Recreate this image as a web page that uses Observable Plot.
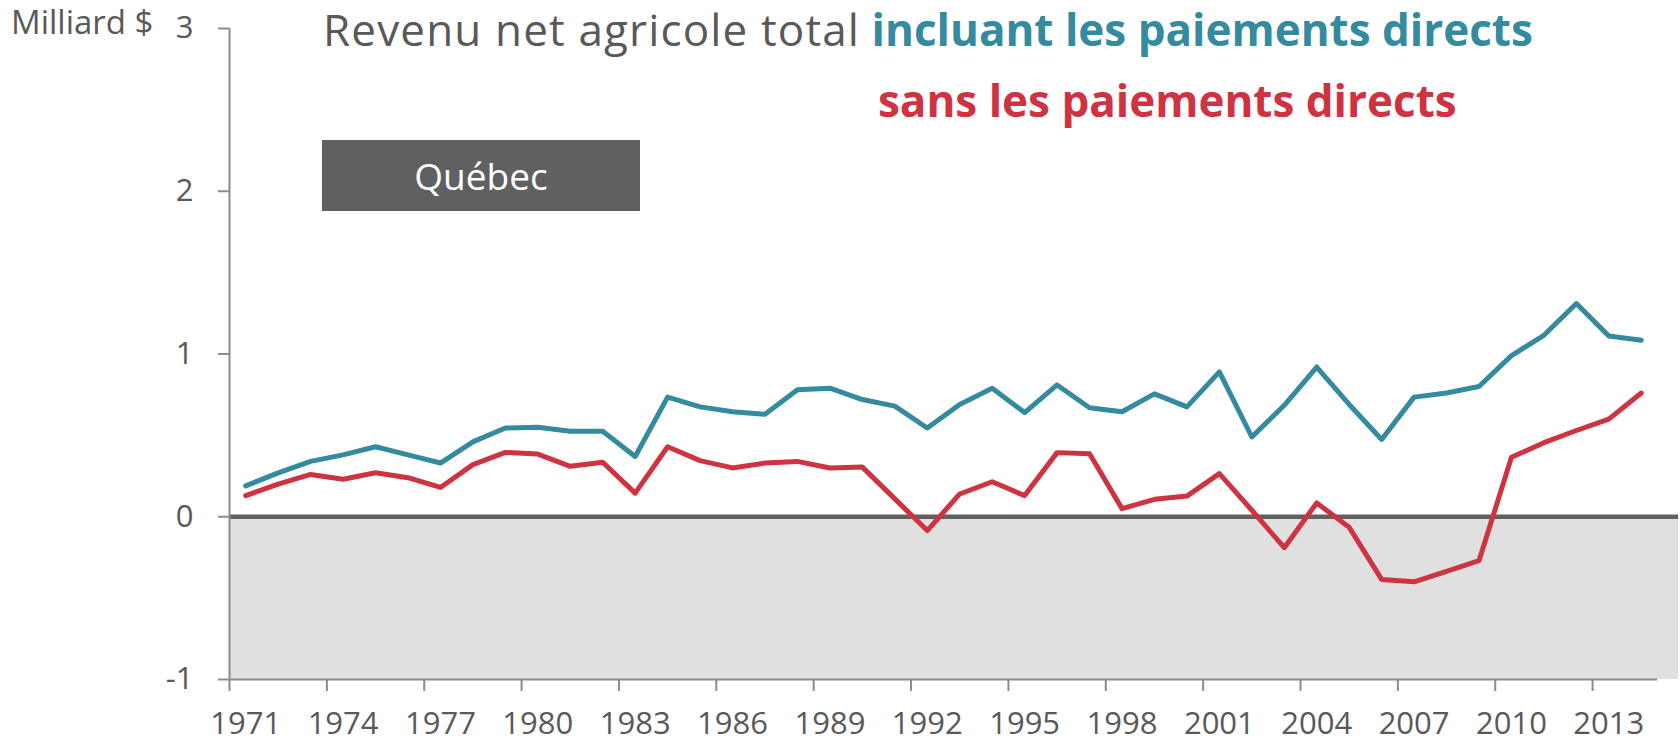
<!DOCTYPE html>
<html>
<head>
<meta charset="utf-8">
<script src="https://cdn.jsdelivr.net/npm/d3@7"></script>
<script src="https://cdn.jsdelivr.net/npm/@observablehq/plot@0.6"></script>
<style>
  html, body { margin: 0; padding: 0; background: #fff; }
  #wrap { position: relative; width: 1680px; height: 742px; font-family: "Open Sans", sans-serif; overflow: hidden; }
  #wrap svg { position: absolute; left: 0; top: 0; }
  .ov { position: absolute; white-space: nowrap; }
  #unit { left: 11px; top: -1px; font-size: 33px; color: #595959; line-height: normal; }
  #title1 { left: 323px; top: -1px; font-size: 44px; color: #595959; line-height: normal; }
  #title1 span { letter-spacing: 1.15px; }
  #title1 b { color: #348a9e; font-weight: 700; letter-spacing: 0; }
  #title2 { left: 878px; top: 70px; font-size: 44px; color: #cf3341; font-weight: 700; line-height: normal; }
  #region { left: 322px; top: 140px; width: 318px; height: 71px; background: #5f6062; color: #fff;
            font-size: 37px; line-height: 1; display: flex; align-items: center; justify-content: center; }
</style>
</head>
<body>
<div id="wrap">
  <div id="unit" class="ov">Milliard $</div>
  <div id="title1" class="ov"><span>Revenu net agricole total</span> <b>incluant les paiements directs</b></div>
  <div id="title2" class="ov">sans les paiements directs</div>
  <div id="region" class="ov">Québec</div>
</div>
<script>
// Years (categories)
const years = [1971,1972,1973,1974,1975,1976,1977,1978,1979,1980,
               1981,1982,1983,1984,1985,1986,1987,1988,1989,1990,
               1991,1992,1993,1994,1995,1996,1997,1998,1999,2000,
               2001,2002,2003,2004,2005,2006,2007,2008,2009,2010,
               2011,2012,2013,2014];
// Total net farm income including direct payments (billion $)
const withPayments = [0.19,0.27,0.34,0.38,0.43,0.38,0.33,0.46,0.545,0.55,
                      0.525,0.525,0.37,0.735,0.675,0.645,0.63,0.78,0.79,0.72,
                      0.68,0.545,0.69,0.79,0.64,0.81,0.67,0.645,0.755,0.675,
                      0.89,0.49,0.685,0.92,0.69,0.475,0.735,0.76,0.80,0.99,
                      1.115,1.31,1.11,1.085];
// Total net farm income without direct payments (billion $)
const withoutPayments = [0.13,0.20,0.26,0.23,0.27,0.24,0.18,0.32,0.395,0.385,
                         0.31,0.335,0.145,0.43,0.345,0.30,0.33,0.34,0.30,0.305,
                         0.11,-0.085,0.14,0.215,0.13,0.394,0.387,0.05,0.107,0.127,
                         0.265,0.04,-0.19,0.085,-0.065,-0.385,-0.40,-0.335,-0.27,0.365,
                         0.455,0.53,0.60,0.76];
// Axis tick labels
const xTickLabels = [1971,1974,1977,1980,1983,1986,1989,1992,1995,1998,2001,2004,2007,2010,2013];
const yTickLabels = [-1,0,1,2,3];

const tealColor = "#348a9e";
const redColor = "#cf3341";
const textColor = "#595959";
const axisColor = "#8c8c8c";

const seriesA = years.map((y, i) => ({year: y, value: withPayments[i]}));
const seriesB = years.map((y, i) => ({year: y, value: withoutPayments[i]}));

// category boundaries (half a year before each labelled year)
const xStart = years[0] - 0.5;
const xEnd = years[years.length - 1] + 0.5;
const boundaryTicks = xTickLabels.map(d => d - 0.5);
const shadeEnd = xEnd + 0.65;

const chart = Plot.plot({
  width: 1680,
  height: 742,
  marginLeft: 229,
  marginRight: 23,
  marginTop: 28,
  marginBottom: 63,
  style: {fontFamily: "'Open Sans', sans-serif", background: "transparent", overflow: "visible"},
  x: {type: "linear", domain: [xStart, xEnd]},
  y: {domain: [-1, 3]},
  marks: [
    Plot.rect([{x1: xStart, x2: shadeEnd, y1: -1, y2: 0}], {x1: "x1", x2: "x2", y1: "y1", y2: "y2", fill: "#e0e0e0", inset: 0, clip: false}),
    Plot.ruleY([0], {x1: xStart, x2: shadeEnd, stroke: "#606060", strokeWidth: 4.5}),
    Plot.ruleX([xStart], {y1: -1, y2: 3, stroke: axisColor, strokeWidth: 2}),
    Plot.ruleY([-1], {x1: xStart, x2: xEnd, stroke: axisColor, strokeWidth: 2}),
    Plot.axisY({ticks: yTickLabels, tickSize: 11, tickPadding: 25, tickFormat: d => String(d),
                fontSize: 31, color: textColor, stroke: axisColor, strokeWidth: 2, strokeOpacity: 1, label: null}),
    Plot.axisX({ticks: [xStart, ...boundaryTicks.slice(1)], tickSize: 12, tickFormat: () => "",
                stroke: axisColor, strokeWidth: 2, strokeOpacity: 1, label: null}),
    Plot.axisX({ticks: xTickLabels, tickSize: 0, tickPadding: 32, tickFormat: d => String(d),
                fontSize: 31, color: textColor, label: null}),
    Plot.line(seriesA, {x: "year", y: "value", stroke: tealColor, strokeWidth: 5, strokeLinejoin: "round", strokeLinecap: "round"}),
    Plot.line(seriesB, {x: "year", y: "value", stroke: redColor, strokeWidth: 5, strokeLinejoin: "round", strokeLinecap: "round"})
  ]
});
document.getElementById("wrap").prepend(chart);
</script>
</body>
</html>
